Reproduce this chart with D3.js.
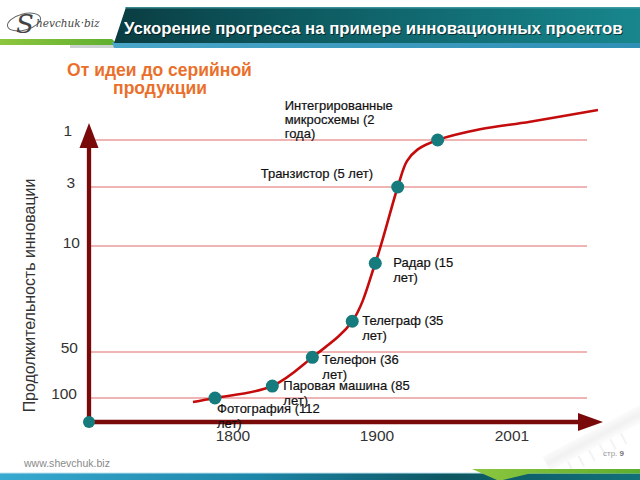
<!DOCTYPE html>
<html><head><meta charset="utf-8">
<script src="https://cdn.jsdelivr.net/npm/d3@7"></script>
<style>body{margin:0;background:#fff}svg{display:block}</style>
</head><body><svg id="c" width="640" height="480"></svg>
<script>
// ---- data ----
const innovations = ["Фотография","Паровая машина","Телефон","Телеграф","Радар","Транзистор","Интегрированные микросхемы"];
const labelLines = [["Фотография (112","лет)"],["Паровая машина (85","лет)"],["Телефон (36","лет)"],["Телеграф (35","лет)"],["Радар (15","лет)"],["Транзистор (5 лет)"],["Интегрированные","микросхемы (2","года)"]];
const years  = [1787.5,1827.3,1855.1,1882.8,1898.8,1915.5,1945.4];
const levels = [100,87,55.8,38.4,16.5,3,1];
const trendYears  = [1772.2,1787.5,1827.3,1855.1,1882.8,1898.8,1915.5,1922.4,1930.5,1945.4,1977.1,2014.5,2065.3];
const trendLevels = [104.3,100,87,55.8,38.4,16.5,3,1.9,1.4,1,0.545,0.22,-0.28];
const yTicks = [1,3,10,50,100];
const yTickLabels = ["1","3","10","50","100"];
const xTicks = [1800,1900,2001];
const xTickLabels = ["1800","1900","2001"];
const titleText = "Ускорение прогресса на примере инновационных проектов";
const subtitleLines = ["От идеи до серийной","продукции"];
const yTitle = "Продолжительность инновации";

// ---- layout ----
const labelOffsets = [[2,15,15],[11,4,15],[10,7,15],[10,4,15],[18,4,15],[-137,-9,15],[-153,-30.5,14.3]];
const yTickDx = [-5,-2,3,1,0];
const yTickDy = [-4.5,0.5,1.5,0.5,0.5];

const svg = d3.select("#c");
const defs = svg.append("defs");
const FONT = "Liberation Sans, Arial, sans-serif";

const x = d3.scaleLinear().domain(xTicks).range([233,377,512]);
const y = d3.scaleLinear().domain(yTicks).range([140,187,246,352,398]);
const X0 = 89, Y0 = 422;

function lg(id, stops, x2="100%", y2="0%"){
  const g = defs.append("linearGradient").attr("id",id).attr("x1","0%").attr("y1","0%").attr("x2",x2).attr("y2",y2);
  stops.forEach(s=>g.append("stop").attr("offset",s[0]).attr("stop-color",s[1]));
}
lg("ban",[["0%","#0a3d42"],["35%","#0d5a60"],["100%","#18868d"]]);
lg("strip",[["0%","#4aa6c8"],["100%","#2f8fb5"]]);
lg("foot",[["0%","#38a9d0"],["40%","#1d86a8"],["70%","#0d5662"],["100%","#127079"]]);
lg("green",[["0%","#8dc63f"],["100%","#5eae2e"]]);
lg("chip",[["0%","#f6f6f6"],["50%","#dedede"],["100%","#f8f8f8"]],"0%","100%");

// ---- header ----
svg.append("path").attr("d","M0,39 L112,39 L118,45 L0,45 Z").attr("fill","url(#green)");
svg.append("rect").attr("x",70).attr("y",45).attr("width",60).attr("height",3).attr("fill","#9aa4a6").attr("opacity",0.5);
svg.append("path").attr("d","M112,42 L640,42 L640,48 L114,48 Z").attr("fill","url(#strip)");
svg.append("path").attr("d","M126,7 L640,7 L640,43 L114,43 Z").attr("fill","url(#ban)");
svg.append("rect").attr("x",125).attr("y",7).attr("width",515).attr("height",1.5).attr("fill","#4fa6ad").attr("opacity",0.7);

// logo
svg.append("ellipse").attr("cx",24).attr("cy",22).attr("rx",17).attr("ry",8).attr("fill","none").attr("stroke","#666").attr("stroke-width",1).attr("transform","rotate(-15,24,22)");
svg.append("text").attr("x",16).attr("y",33).attr("font-family","DejaVu Serif, serif").attr("font-style","italic").attr("font-size",26).attr("fill","#444").text("S");
svg.append("text").attr("x",36).attr("y",27).attr("font-family","DejaVu Serif, serif").attr("font-style","italic").attr("font-size",10.5).attr("fill","#444").text("hevchuk·biz");

function fit(sel, w){
  const l = sel.node().getComputedTextLength();
  sel.attr("font-size", parseFloat(sel.attr("font-size"))*w/l);
}
svg.append("text").attr("x",125).attr("y",34.5).attr("font-family",FONT).attr("font-weight","bold").attr("font-size",16).attr("fill","#000").attr("opacity",0.55).text(titleText).call(fit,499);
svg.append("text").attr("x",124).attr("y",33.5).attr("font-family",FONT).attr("font-weight","bold").attr("font-size",16).attr("fill","#fff").text(titleText).call(fit,499);

// subtitle
const st1 = svg.append("text").attr("x",159.5).attr("y",75.5).attr("text-anchor","middle").attr("font-family",FONT).attr("font-weight","bold").attr("font-size",16).attr("fill","#ea6f2a").text(subtitleLines[0]);
st1.call(fit,185);
svg.append("text").attr("x",160).attr("y",93.5).attr("text-anchor","middle").attr("font-family",FONT).attr("font-weight","bold").attr("font-size",st1.attr("font-size")).attr("fill","#ea6f2a").text(subtitleLines[1]);

// chip decoration (bottom-right)
const chip = svg.append("g").attr("opacity",0.4).attr("transform","rotate(-28,595,438)");
chip.append("rect").attr("x",540).attr("y",430).attr("width",110).attr("height",16).attr("fill","url(#chip)");
for(let i=0;i<6;i++){
  chip.append("line").attr("x1",560+i*12).attr("x2",560+i*12).attr("y1",446).attr("y2",458).attr("stroke","#e2e2e2").attr("stroke-width",2);
}

// ---- gridlines ----
svg.append("g").selectAll("line").data(yTicks).join("line")
  .attr("x1",X0).attr("x2",587).attr("y1",d=>y(d)).attr("y2",d=>y(d))
  .attr("stroke","#e06a6a").attr("stroke-width",1.2);

// y tick labels
svg.append("g").selectAll("text").data(yTicks).join("text")
  .attr("x",(d,i)=>77+yTickDx[i]).attr("y",(d,i)=>y(d)+yTickDy[i])
  .attr("text-anchor","end").attr("font-family",FONT).attr("font-size",15.5).attr("fill","#333")
  .text((d,i)=>yTickLabels[i]);

// x tick labels
svg.append("g").selectAll("text").data(xTicks).join("text")
  .attr("x",d=>x(d)).attr("y",441).attr("text-anchor","middle")
  .attr("font-family",FONT).attr("font-size",15.5).attr("fill","#333")
  .text((d,i)=>xTickLabels[i]);

// y title
const yt = svg.append("text").attr("transform","translate(35,295.5) rotate(-90)").attr("text-anchor","middle")
  .attr("font-family",FONT).attr("font-size",15).attr("fill","#333").text(yTitle);
yt.call(fit,234);

// ---- trend curve ----
const trend = trendYears.map((t,i)=>[t,trendLevels[i]]);
svg.append("path").datum(trend)
  .attr("d", d3.line().x(d=>x(d[0])).y(d=>y(d[1])).curve(d3.curveCatmullRom.alpha(0.5)))
  .attr("fill","none").attr("stroke","#c40c0c").attr("stroke-width",2.6);

// ---- axes ----
const AX = "#7a0a0a";
svg.append("line").attr("x1",X0).attr("x2",X0).attr("y1",Y0).attr("y2",146).attr("stroke",AX).attr("stroke-width",4.3);
svg.append("path").attr("d",`M${X0},123 L${X0+9.5},148 L${X0-9.5},148 Z`).attr("fill",AX);
svg.append("line").attr("x1",X0).attr("x2",580).attr("y1",Y0).attr("y2",Y0).attr("stroke",AX).attr("stroke-width",4.3);
svg.append("path").attr("d",`M603,${Y0} L578,${Y0-9} L578,${Y0+9} Z`).attr("fill",AX);

// ---- points ----
const DOT = "#157b7d";
svg.append("circle").attr("cx",X0).attr("cy",Y0).attr("r",6).attr("fill",DOT);
svg.append("g").selectAll("circle").data(innovations).join("circle")
  .attr("cx",(d,i)=>x(years[i])).attr("cy",(d,i)=>y(levels[i])).attr("r",6.5).attr("fill",DOT);

// labels
const lab = svg.append("g").selectAll("text").data(innovations).join("text")
  .attr("font-family",FONT).attr("font-size",13).attr("fill","#111")
  .attr("stroke","#111").attr("stroke-width",0.2)
  .attr("x",(d,i)=>x(years[i])+labelOffsets[i][0])
  .attr("y",(d,i)=>y(levels[i])+labelOffsets[i][1]);
lab.each(function(d,i){
  const t = d3.select(this);
  labelLines[i].forEach((ln,j)=>{
    t.append("tspan").attr("x",x(years[i])+labelOffsets[i][0]).attr("dy", j===0?0:labelOffsets[i][2]).text(ln);
  });
});

// ---- footer ----
svg.append("text").attr("x",24).attr("y",467).attr("font-family",FONT).attr("font-size",10.5).attr("fill","#8a8a8a").text("www.shevchuk.biz").call(fit,86);
const pg = svg.append("text").attr("x",603).attr("y",455.5).attr("font-family",FONT).attr("font-size",8).attr("fill","#9a9a9a");
pg.append("tspan").text("стр. ");
pg.append("tspan").attr("font-weight","bold").attr("fill","#777").text("9");
svg.append("rect").attr("x",0).attr("y",473).attr("width",640).attr("height",7).attr("fill","url(#foot)");
svg.append("rect").attr("x",0).attr("y",472.5).attr("width",640).attr("height",1).attr("fill","#bfe3ef");
svg.append("path").attr("d","M472,469 L640,469 L640,473.5 L530,473.5 L503,480 L497,480 Z").attr("fill","url(#green)");
</script></body></html>
